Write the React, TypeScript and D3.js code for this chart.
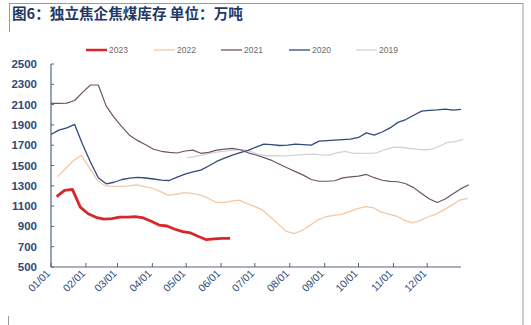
import React from "react";
import * as d3 from "d3";

const W = 531;
const H = 325;

const title = "图6：独立焦企焦煤库存 单位：万吨";
const yTicks = [500, 700, 900, 1100, 1300, 1500, 1700, 1900, 2100, 2300, 2500];
const xTickLabels = ["01/01", "02/01", "03/01", "04/01", "05/01", "06/01", "07/01", "08/01", "09/01", "10/01", "11/01", "12/01"];

// weekly observations, mapped onto one calendar year (start date of first week)
const start2023 = "2023-01-06";
const values2023 = [1193, 1255, 1265, 1090, 1025, 990, 972, 976, 991, 992, 996, 983, 950, 913, 904, 872, 848, 836, 800, 769, 777, 783, 783];

const start2022 = "2023-01-07";
const values2022 = [1390, 1470, 1550, 1600, 1480, 1355, 1300, 1295, 1295, 1300, 1308, 1292, 1276, 1245, 1205, 1215, 1232, 1225, 1210, 1180, 1140, 1135, 1148, 1158, 1125, 1095, 1060, 990, 920, 850, 830, 860, 910, 965, 995, 1008, 1018, 1045, 1075, 1094, 1085, 1042, 1020, 1000, 960, 935, 960, 995, 1022, 1065, 1110, 1160, 1177];

const start2021 = "2023-01-01";
const values2021 = [2113, 2113, 2115, 2140, 2220, 2293, 2293, 2085, 1975, 1880, 1795, 1745, 1705, 1660, 1640, 1630, 1623, 1643, 1652, 1620, 1630, 1651, 1662, 1668, 1655, 1625, 1603, 1578, 1550, 1513, 1475, 1440, 1405, 1362, 1345, 1345, 1350, 1378, 1388, 1395, 1412, 1380, 1355, 1343, 1340, 1320, 1282, 1225, 1170, 1135, 1170, 1222, 1272, 1310];

const start2020 = "2023-01-01";
const values2020 = [1805, 1848, 1870, 1905, 1710, 1535, 1380, 1320, 1335, 1362, 1376, 1383, 1377, 1367, 1355, 1352, 1385, 1415, 1437, 1455, 1495, 1540, 1572, 1603, 1626, 1650, 1682, 1711, 1705, 1697, 1700, 1711, 1705, 1700, 1740, 1745, 1750, 1755, 1760, 1776, 1822, 1800, 1830, 1870, 1925, 1953, 1995, 2035, 2043, 2048, 2056, 2046, 2052];

const start2019 = "2023-05-02";
const values2019 = [1575, 1590, 1605, 1622, 1635, 1645, 1652, 1658, 1640, 1610, 1596, 1596, 1594, 1597, 1604, 1609, 1612, 1605, 1603, 1625, 1640, 1620, 1620, 1620, 1625, 1655, 1678, 1680, 1670, 1662, 1655, 1660, 1690, 1728, 1735, 1758];

const seriesNames = ["2023", "2022", "2021", "2020", "2019"];
const seriesColors = ["#D9262B", "#F4C8A4", "#6E5468", "#2F4A7A", "#D3D3D3"];
const seriesWidths = [2.8, 1.3, 1.2, 1.3, 1.3];

const parse = d3.timeParse("%Y-%m-%d");

function weekly(start: string, values: number[]) {
  const s = parse(start) as Date;
  return values.map((v, i) => ({ date: d3.timeDay.offset(s, i * 7), value: v }));
}

export default function App() {
  const x = d3
    .scaleTime()
    .domain([parse("2023-01-01") as Date, parse("2023-12-31") as Date])
    .range([51, 461]);
  const y = d3.scaleLinear().domain([500, 2500]).range([267, 64]);

  const series = [
    weekly(start2023, values2023),
    weekly(start2022, values2022),
    weekly(start2021, values2021),
    weekly(start2020, values2020),
    weekly(start2019, values2019),
  ];
  const line = d3
    .line<{ date: Date; value: number }>()
    .x((d) => x(d.date))
    .y((d) => y(d.value));

  const monthTicks = xTickLabels.map((_, i) => new Date(2023, i, 1));
  const drawOrder = [4, 3, 2, 1, 0];

  const legendX = [86, 154, 221, 289, 356];
  const axisColor = "#56647F";
  const labelColor = "#2F4A78";

  return (
    <svg width={W} height={H} style={{ position: "absolute", left: 0, top: 0, background: "#fff" }}>
      {/* frame */}
      <line x1={9} y1={3.5} x2={523} y2={3.5} stroke="#9a9a9a" strokeWidth={1} />
      <line x1={523} y1={3} x2={523} y2={325} stroke="#9a9a9a" strokeWidth={1} />
      <line x1={9.5} y1={3} x2={9.5} y2={32} stroke="#9a9a9a" strokeWidth={1} />
      <line x1={8.5} y1={316} x2={8.5} y2={325} stroke="#9a9a9a" strokeWidth={1} />

      <text x={12} y={19} fontFamily="'Noto Sans CJK SC', sans-serif" fontWeight={700} fontSize={14.6} fill="#1F3864">
        {title}
      </text>

      {/* legend */}
      {seriesNames.map((n, i) => (
        <g key={n}>
          <line x1={legendX[i]} x2={legendX[i] + 21} y1={50} y2={50} stroke={seriesColors[i]} strokeWidth={i === 0 ? 2.5 : 1.3} />
          <text x={legendX[i] + 23} y={53} fontFamily="Arial, 'Liberation Sans', sans-serif" fontSize={8.5} fill="#6a6a6a">
            {n}
          </text>
        </g>
      ))}

      {/* y axis */}
      <line x1={51} x2={51} y1={64} y2={267} stroke={axisColor} strokeWidth={1.2} />
      {yTicks.map((t) => (
        <g key={t}>
          <line x1={51} x2={54} y1={y(t)} y2={y(t)} stroke={axisColor} strokeWidth={1} />
          <text
            x={37}
            y={y(t) + 4}
            textAnchor="end"
            fontFamily="Arial, 'Liberation Sans', sans-serif"
            fontWeight={700}
            fontSize={11.5}
            fill={labelColor}
          >
            {t}
          </text>
        </g>
      ))}

      {/* x axis */}
      <line x1={51} x2={461} y1={267} y2={267} stroke={axisColor} strokeWidth={1.2} />
      {monthTicks.map((d, i) => (
        <g key={i}>
          <line x1={x(d)} x2={x(d)} y1={263} y2={267} stroke={axisColor} strokeWidth={1} />
          <text
            transform={`translate(${x(d)},${274}) rotate(-45)`}
            textAnchor="end"
            fontFamily="Arial, 'Liberation Sans', sans-serif"
            fontSize={10.5}
            fill={labelColor}
          >
            {xTickLabels[i]}
          </text>
        </g>
      ))}

      {/* lines */}
      {drawOrder.map((i) => (
        <path
          key={seriesNames[i]}
          d={line(series[i]) || ""}
          fill="none"
          stroke={seriesColors[i]}
          strokeWidth={seriesWidths[i]}
          strokeLinejoin="round"
        />
      ))}
    </svg>
  );
}
